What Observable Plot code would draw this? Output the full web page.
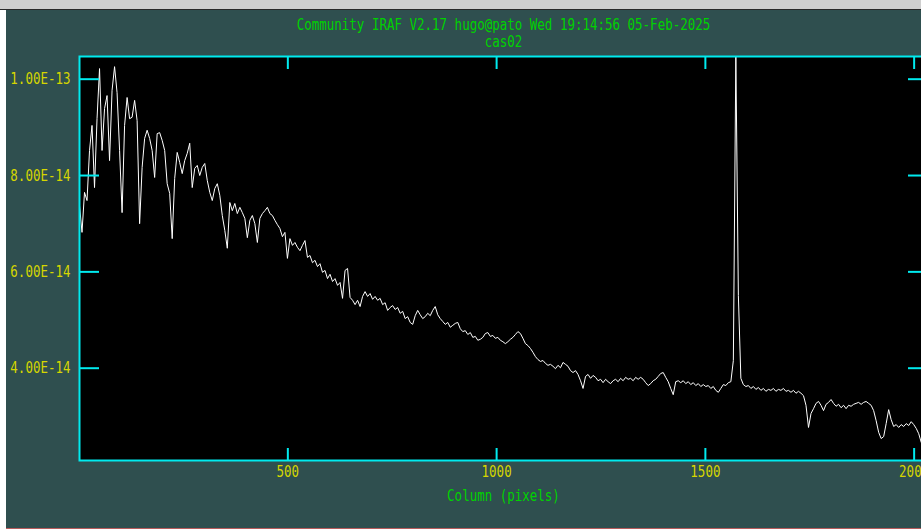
<!DOCTYPE html>
<html>
<head>
<meta charset="utf-8">
<script src="https://cdn.jsdelivr.net/npm/d3@7"></script>
<script src="https://cdn.jsdelivr.net/npm/@observablehq/plot@0.6"></script>
<style>
  html, body { margin: 0; padding: 0; background: #ffffff; overflow: hidden; width: 921px; height: 529px; }
  #topbar { position: absolute; left: 0; top: 0; width: 921px; height: 9px; background: #cfcfcf; border-bottom: 1px solid #2a2a2a; }
  #panel { position: absolute; left: 6px; top: 10px; width: 930px; height: 518px; background: #2f4f4f; border-bottom: 1px solid #b85c5c; overflow: visible; }
</style>
</head>
<body>
<div id="topbar"></div>
<div id="panel"></div>
<script>
// ---- data ----
const titleLines = ["Community IRAF V2.17 hugo@pato Wed 19:14:56 05-Feb-2025", "cas02"];
const xLabel = "Column (pixels)";
const xTicks = [500, 1000, 1500, 2000];
const yTicks = [4e-14, 6e-14, 8e-14, 1e-13];
const xDomain = [1, 2032];
const yDomain = [2.084e-14, 1.0471e-13];
const firstColumn = 1;
const columnStep = 6;
// flux in units of 1e-14, one value every 6 columns
const fluxE14 = [
  7.38, 6.82, 7.65, 7.48, 8.52, 9.04, 7.75, 9.18, 10.22, 8.52,
  9.39, 9.66, 8.31, 9.77, 10.26, 9.72, 8.52, 7.23, 9.04, 9.62,
  9.18, 9.21, 9.56, 9.14, 7.00, 8.17, 8.77, 8.94, 8.77, 8.52,
  7.96, 8.87, 8.89, 8.73, 8.52, 7.83, 7.63, 6.69, 7.94, 8.48,
  8.27, 8.04, 8.31, 8.46, 8.67, 7.75, 8.15, 8.21, 8.00, 8.17,
  8.25, 7.90, 7.65, 7.48, 7.73, 7.83, 7.59, 7.17, 6.86, 6.49,
  7.44, 7.27, 7.42, 7.21, 7.34, 7.23, 7.11, 6.71, 7.07, 7.17,
  7.00, 6.61, 7.11, 7.21, 7.27, 7.34, 7.21, 7.17, 7.07, 6.98,
  6.90, 6.73, 6.82, 6.28, 6.69, 6.55, 6.61, 6.51, 6.44, 6.55,
  6.65, 6.30, 6.34, 6.19, 6.24, 6.11, 6.17, 5.99, 6.03, 5.86,
  5.95, 5.80, 5.86, 5.72, 5.78, 5.45, 6.03, 6.07, 5.47, 5.41,
  5.32, 5.41, 5.28, 5.49, 5.59, 5.49, 5.55, 5.43, 5.49, 5.41,
  5.45, 5.32, 5.36, 5.20, 5.26, 5.30, 5.22, 5.26, 5.14, 5.18,
  5.03, 5.07, 4.95, 4.91, 5.09, 5.20, 5.11, 5.03, 5.07, 5.14,
  5.09, 5.20, 5.28, 5.11, 5.03, 4.97, 4.91, 4.95, 4.85, 4.89,
  4.93, 4.95, 4.82, 4.76, 4.78, 4.70, 4.74, 4.64, 4.66, 4.58,
  4.60, 4.64, 4.72, 4.74, 4.66, 4.68, 4.62, 4.64, 4.58, 4.55,
  4.51, 4.55, 4.60, 4.64, 4.70, 4.76, 4.72, 4.62, 4.51, 4.47,
  4.41, 4.33, 4.24, 4.18, 4.14, 4.16, 4.10, 4.06, 4.08, 4.04,
  3.99, 4.06, 4.01, 4.12, 4.08, 4.04, 3.95, 3.91, 3.95, 3.87,
  3.74, 3.58, 3.83, 3.87, 3.79, 3.85, 3.81, 3.74, 3.77, 3.70,
  3.77, 3.72, 3.68, 3.74, 3.77, 3.72, 3.79, 3.74, 3.81, 3.77,
  3.79, 3.74, 3.81, 3.77, 3.81, 3.77, 3.70, 3.64, 3.68, 3.74,
  3.77, 3.83, 3.89, 3.91, 3.81, 3.72, 3.58, 3.45, 3.72, 3.74,
  3.70, 3.74, 3.68, 3.72, 3.66, 3.70, 3.64, 3.68, 3.62, 3.66,
  3.62, 3.64, 3.58, 3.62, 3.54, 3.50, 3.58, 3.66, 3.64, 3.70,
  3.72, 4.16, 10.47, 5.51, 3.79, 3.66, 3.62, 3.64, 3.58, 3.62,
  3.56, 3.60, 3.54, 3.58, 3.52, 3.56, 3.54, 3.58, 3.52, 3.56,
  3.54, 3.58, 3.52, 3.54, 3.50, 3.54, 3.48, 3.52, 3.48, 3.43,
  3.23, 2.77, 3.06, 3.16, 3.27, 3.31, 3.23, 3.12, 3.25, 3.29,
  3.35, 3.27, 3.21, 3.25, 3.18, 3.23, 3.16, 3.23, 3.21, 3.25,
  3.27, 3.29, 3.25, 3.29, 3.31, 3.27, 3.23, 3.12, 2.91, 2.67,
  2.54, 2.58, 2.85, 3.14, 2.93, 2.79, 2.83, 2.77, 2.83, 2.79,
  2.85, 2.81, 2.89, 2.83, 2.75, 2.64, 2.46, 2.39, 2.35
];

// ---- colours ----
const cyan = "#00eaee";
const yellow = "#d6d600";
const green = "#00d200";

const spectrum = fluxE14.map((f, i) => ({column: firstColumn + columnStep * i, flux: f * 1e-14}));
const fmtY = (d) => d.toExponential(2).toUpperCase();
const fmtX = (d) => String(d);

const chart = Plot.plot({
  width: 930,
  height: 517,
  marginLeft: 73,
  marginRight: 9,
  marginTop: 46,
  marginBottom: 67,
  style: {background: "transparent", maxWidth: "none", overflow: "visible", fontFamily: "DejaVu Sans Mono", fontSize: "12.5px"},
  x: {domain: xDomain},
  y: {domain: yDomain},
  marks: [
    Plot.frame({fill: "black", stroke: null}),
    Plot.line(spectrum, {x: "column", y: "flux", stroke: "#ffffff", strokeWidth: 1, clip: true}),
    Plot.frame({stroke: cyan, strokeWidth: 2}),
    Plot.axisX({anchor: "bottom", ticks: xTicks, tickSize: -12, tickPadding: 23, lineAnchor: "middle", tickFormat: fmtX, label: null, stroke: cyan, strokeWidth: 2, fill: yellow}),
    Plot.axisX({anchor: "top", ticks: xTicks, tickSize: -12, tickFormat: () => "", label: null, stroke: cyan, strokeWidth: 2}),
    Plot.axisY({anchor: "left", ticks: yTicks, tickSize: -20, tickPadding: 29, tickFormat: fmtY, label: null, stroke: cyan, strokeWidth: 2, fill: yellow}),
    Plot.axisY({anchor: "right", ticks: yTicks, tickSize: -20, tickFormat: () => "", label: null, stroke: cyan, strokeWidth: 2}),
    Plot.text([titleLines[0]], {text: (d) => d, frameAnchor: "top", dy: -32, lineAnchor: "middle", fill: green}),
    Plot.text([titleLines[1]], {text: (d) => d, frameAnchor: "top", dy: -15, lineAnchor: "middle", fill: green}),
    Plot.text([xLabel], {text: (d) => d, frameAnchor: "bottom", dy: 35, lineAnchor: "middle", fill: green})
  ]
});

// stretch glyphs vertically to mimic the tall, narrow IRAF vector font
d3.select(chart).selectAll("text").each(function () {
  const t = this.getAttribute("transform") || "";
  this.setAttribute("transform", t + " scale(1,1.3)");
});

document.getElementById("panel").appendChild(chart);
</script>
</body>
</html>
